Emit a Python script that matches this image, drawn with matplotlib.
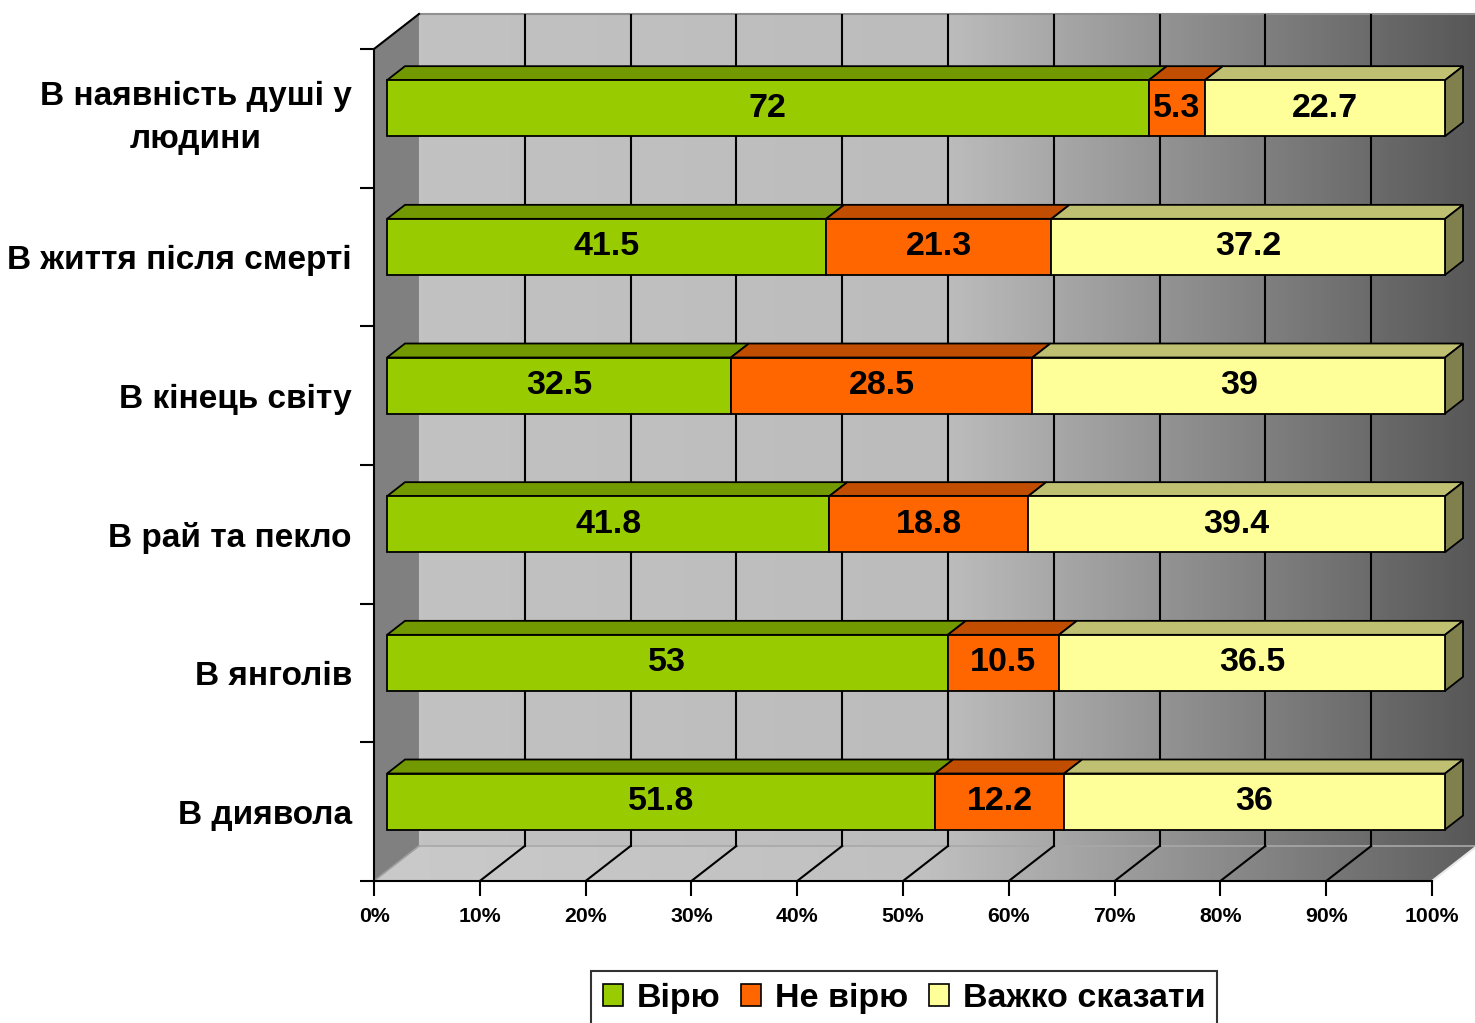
import matplotlib.pyplot as plt
import numpy as np
from matplotlib.patches import Polygon, Patch
from matplotlib.colors import LinearSegmentedColormap

plt.rcParams['font.family'] = ['Liberation Sans', 'DejaVu Sans']
plt.rcParams['font.weight'] = 'bold'

# categories from bottom to top
categories = ['В диявола', 'В янголів', 'В рай та пекло', 'В кінець світу',
              'В життя після смерті', 'В наявність душі у\nлюдини']
viryu = [51.8, 53, 41.8, 32.5, 41.5, 72]
ne_viryu = [12.2, 10.5, 18.8, 28.5, 21.3, 5.3]
vazhko = [36, 36.5, 39.4, 39, 37.2, 22.7]
series_names = ['Вірю', 'Не вірю', 'Важко сказати']
x_ticks = list(range(0, 101, 10))
x_labels = [f'{t}%' for t in x_ticks]

front_colors = ['#99cc00', '#ff6600', '#ffff99']
top_colors = ['#739900', '#c04d00', '#c0c073']
side_color = '#80804d'

# depth of the fake 3d box (data units) and where the bars sit inside it
DX, DY = 4.25, 0.2524
f0, f1 = 0.29, 0.69
bar_h = 0.404
n = len(categories)

fig = plt.figure(figsize=(14.75, 10.23), dpi=100)
ax = fig.add_axes([374 / 1475, 142 / 1023, 1101 / 1475, 867 / 1023])

# back wall + floor gradients
grad = np.linspace(0, 1, 256).reshape(1, -1)
wall_cmap = LinearSegmentedColormap.from_list('wall', ['#c2c2c2', '#bcbcbc', '#575757'])
floor_cmap = LinearSegmentedColormap.from_list('floor', ['#cacaca', '#c0c0c0', '#5e5e5e'])
ax.imshow(grad, extent=[DX, 100 + DX, DY, n + DY], cmap=wall_cmap, aspect='auto', zorder=0)
floor = Polygon([(0, 0), (100, 0), (100 + DX, DY), (DX, DY)], closed=True,
                facecolor='none', edgecolor='none')
ax.add_patch(floor)
im = ax.imshow(grad, extent=[0, 100 + DX, 0, DY], cmap=floor_cmap, aspect='auto', zorder=0)
im.set_clip_path(floor)
ax.add_patch(Polygon([(0, 0), (DX, DY), (DX, n + DY), (0, n)], closed=True,
                     facecolor='#808080', edgecolor='none', zorder=0.5))
ax.plot([0, DX], [n, n + DY], color='black', lw=1.5, zorder=3, clip_on=False)
ax.plot([DX, 100 + DX], [n + DY, n + DY], color='#909090', lw=1.5, zorder=1, clip_on=False)
ax.plot([DX, 100 + DX], [DY, DY], color='#a8a8a8', lw=1.2, zorder=1)
ax.plot([0, DX], [0, DY], color='#a0a0a0', lw=1.2, zorder=1)
ax.plot([100, 100 + DX], [0, DY], color='#e8e8e8', lw=1.5, zorder=1, clip_on=False)

# gridlines on wall and floor
for t in x_ticks[1:-1]:
    ax.plot([t + DX, t + DX], [DY, n + DY], color='black', lw=1.5, zorder=1)
    ax.plot([t, t + DX], [0, DY], color='black', lw=1.5, zorder=1)

# stacked 3d bars
series = [viryu, ne_viryu, vazhko]
ddx, ddy = (f1 - f0) * DX, (f1 - f0) * DY
ypos = np.arange(n) + 0.5 + f0 * DY
for i in range(n):
    left = f0 * DX
    for s, vals in enumerate(series):
        w = vals[i]
        yb, yt = ypos[i] - bar_h / 2, ypos[i] + bar_h / 2
        ax.add_patch(Polygon([(left, yt), (left + w, yt), (left + w + ddx, yt + ddy),
                              (left + ddx, yt + ddy)], closed=True,
                             facecolor=top_colors[s], edgecolor='black', lw=1.3, zorder=3))
        ax.barh(ypos[i], w, left=left, height=bar_h, color=front_colors[s],
                edgecolor='black', linewidth=1.3, zorder=4)
        ax.text(left + w / 2, ypos[i], f'{w:g}', ha='center', va='center',
                fontsize=24.5, fontweight='bold', zorder=5)
        left += w
    ax.add_patch(Polygon([(left, yb), (left, yt), (left + ddx, yt + ddy), (left + ddx, yb + ddy)],
                         closed=True, facecolor=side_color, edgecolor='black', lw=1.3, zorder=3))

ax.set_xlim(0, 1101 / 10.58)
ax.set_ylim(0, n + DY)

for sp in ['top', 'right']:
    ax.spines[sp].set_visible(False)
ax.spines['bottom'].set_bounds(0, 100)
ax.spines['left'].set_bounds(0, n)
ax.spines['bottom'].set_linewidth(1.5)
ax.spines['left'].set_linewidth(1.5)

ax.set_xticks(x_ticks, x_labels)
ax.tick_params(axis='x', length=11, width=1.5, labelsize=15.3, pad=8)
ax.set_yticks(range(n + 1), [''] * (n + 1))
ax.set_yticks(np.arange(n) + 0.5, categories, minor=True)
ax.tick_params(axis='y', which='major', length=10, width=1.5)
ax.tick_params(axis='y', which='minor', length=0, labelsize=24, pad=16)
for lbl in ax.get_yticklabels(minor=True):
    lbl.set_multialignment('center')
    lbl.set_linespacing(1.5)
    lbl.set_fontweight('bold')
    if '\n' in lbl.get_text():
        lbl.set_verticalalignment('center')
for lbl in ax.get_xticklabels():
    lbl.set_fontweight('bold')

handles = [Patch(facecolor=c, edgecolor='black', linewidth=1.2) for c in front_colors]
leg = fig.legend(handles, series_names, loc='upper center', bbox_to_anchor=(904 / 1475, 52 / 1023),
                 ncol=3, fontsize=24.5, frameon=True, fancybox=False, edgecolor='black',
                 handlelength=0.6, handleheight=0.6, handletextpad=0.4, columnspacing=0.6,
                 borderpad=0.35, borderaxespad=0)
leg.get_frame().set_linewidth(1.5)
for t in leg.get_texts():
    t.set_fontweight('bold')

fig.savefig('out.png', dpi=100)
